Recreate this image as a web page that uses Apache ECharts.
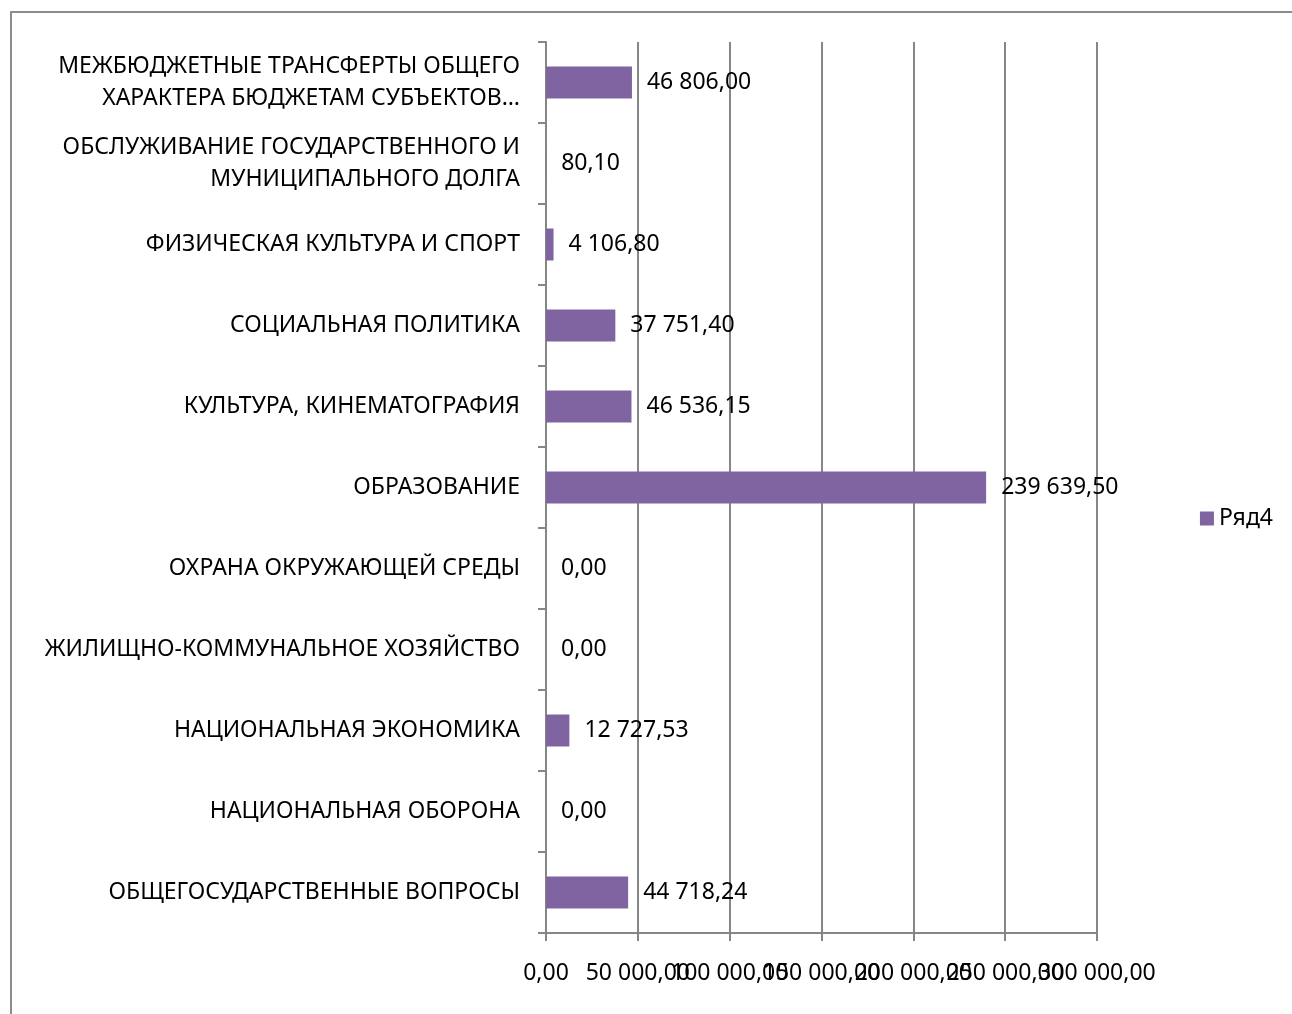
<!DOCTYPE html>
<html>
<head>
<meta charset="utf-8">
<script src="https://cdn.jsdelivr.net/npm/echarts@6/dist/echarts.min.js"></script>
<style>
html, body { margin: 0; padding: 0; background: #fff; }
#chart { width: 1292px; height: 1014px; }
</style>
</head>
<body>
<div id="chart"></div>
<script>
// categories from bottom to top
var categories = [
    'ОБЩЕГОСУДАРСТВЕННЫЕ ВОПРОСЫ',
    'НАЦИОНАЛЬНАЯ ОБОРОНА',
    'НАЦИОНАЛЬНАЯ ЭКОНОМИКА',
    'ЖИЛИЩНО-КОММУНАЛЬНОЕ ХОЗЯЙСТВО',
    'ОХРАНА ОКРУЖАЮЩЕЙ СРЕДЫ',
    'ОБРАЗОВАНИЕ',
    'КУЛЬТУРА, КИНЕМАТОГРАФИЯ',
    'СОЦИАЛЬНАЯ ПОЛИТИКА',
    'ФИЗИЧЕСКАЯ КУЛЬТУРА И СПОРТ',
    'ОБСЛУЖИВАНИЕ ГОСУДАРСТВЕННОГО И\nМУНИЦИПАЛЬНОГО ДОЛГА',
    'МЕЖБЮДЖЕТНЫЕ ТРАНСФЕРТЫ ОБЩЕГО\nХАРАКТЕРА БЮДЖЕТАМ СУБЪЕКТОВ…'
];
var values = [44718.24, 0, 12727.53, 0, 0, 239639.50, 46536.15, 37751.40, 4106.80, 80.10, 46806.00];
var seriesName = 'Ряд4';
var xTicks = [0, 50000, 100000, 150000, 200000, 250000, 300000];
var xMin = 0, xMax = 300000, xStep = 50000;

function fmt(v) {
    var parts = Number(v).toFixed(2).split('.');
    var s = parts[0].replace(/\B(?=(\d{3})+(?!\d))/g, ' ');
    return s + ',' + parts[1];
}

var chart = echarts.init(document.getElementById('chart'));
var font = 'Noto Sans';
var fs = 23;
var gray = '#868686';

var option = {
    backgroundColor: '#fff',
    animation: false,
    graphic: [{
        type: 'rect',
        shape: { x: 11, y: 12, width: 1300, height: 1020 },
        style: { fill: 'none', stroke: '#8c8c8c', lineWidth: 2 },
        silent: true
    }],
    legend: {
        data: [seriesName],
        right: 14,
        top: 502,
        orient: 'vertical',
        icon: 'rect',
        itemWidth: 14,
        itemHeight: 14,
        itemGap: 6,
        textStyle: { fontFamily: font, fontSize: fs, color: '#000' }
    },
    grid: {
        left: 546,
        right: 195,
        top: 42,
        bottom: 81,
        containLabel: false
    },
    xAxis: {
        type: 'value',
        min: xMin,
        max: xMax,
        interval: xStep,
        axisLine: { show: true, lineStyle: { color: gray, width: 2 } },
        axisTick: { show: true, length: 8, lineStyle: { color: gray, width: 2 } },
        splitLine: { show: true, lineStyle: { color: gray, width: 2 } },
        // labels overlap in the original, so they are drawn by the custom series below
        axisLabel: { show: false }
    },
    yAxis: {
        type: 'category',
        data: categories,
        axisLine: { show: true, lineStyle: { color: gray, width: 2 } },
        axisTick: { show: true, length: 8, lineStyle: { color: gray, width: 2 } },
        axisLabel: {
            margin: 26,
            fontFamily: font,
            fontSize: fs,
            lineHeight: 32,
            color: '#000',
            align: 'right',
            interval: 0
        }
    },
    series: [{
        name: seriesName,
        type: 'bar',
        data: values,
        barWidth: 32,
        itemStyle: { color: '#8064A2' },
        label: {
            show: true,
            position: 'right',
            distance: 15,
            fontFamily: font,
            fontSize: fs,
            color: '#000',
            formatter: function (p) { return fmt(p.value); }
        }
    }, {
        name: 'xTickLabels',
        type: 'custom',
        silent: true,
        clip: false,
        data: xTicks.map(function (v) { return [v, 0]; }),
        renderItem: function (params, api) {
            var pt = api.coord([api.value(0), 0]);
            var cs = params.coordSys;
            return {
                type: 'text',
                x: pt[0],
                y: cs.y + cs.height + 40,
                style: {
                    text: fmt(api.value(0)),
                    align: 'center',
                    verticalAlign: 'middle',
                    fontFamily: font,
                    fontSize: fs,
                    fill: '#000'
                }
            };
        }
    }]
};

chart.setOption(option);
</script>
</body>
</html>
